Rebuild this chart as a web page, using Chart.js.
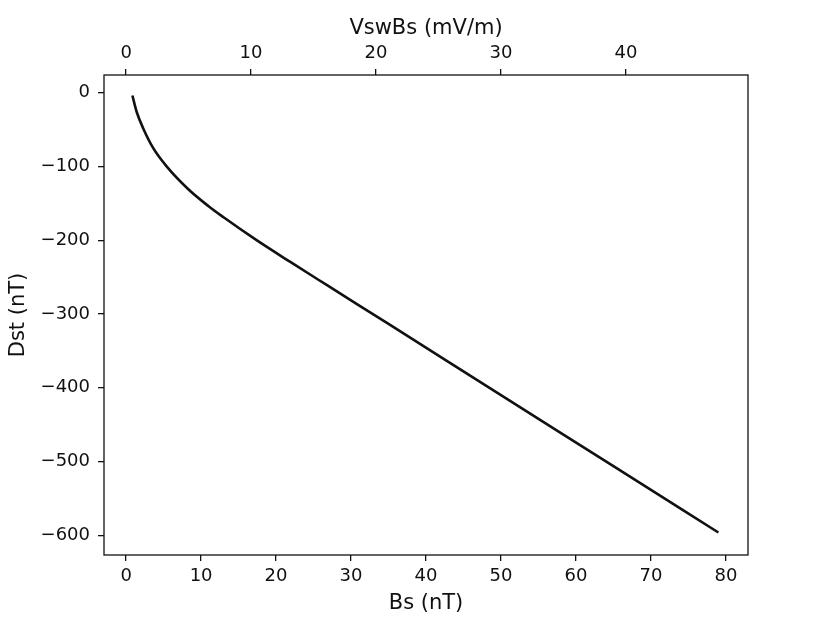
<!DOCTYPE html>
<html>
<head>
<meta charset="utf-8">
<script src="https://cdn.jsdelivr.net/npm/chart.js@4"></script>
<style>
  html, body { margin: 0; padding: 0; background: #fff; }
  canvas { display: block; }
</style>
</head>
<body>
<canvas id="dstChart" width="830" height="623" style="width:830px;height:623px"></canvas>
<script>
// Dst response vs southward IMF
const bsValues  = [0.84, 1.4, 2.3, 3.6, 5.4, 8.3, 11, 13, 17.4, 21.9, 26.8, 35, 50, 65, 79];
const dstValues = [-4, -26, -49, -75, -100, -131, -154, -169, -200, -229.5, -261, -313.5, -410, -506, -596];

// axis ticks
const bsTicks = [0, 10, 20, 30, 40, 50, 60, 70, 80];
const eTicks = [0, 10, 20, 30, 40];
const dstTicks = [0, -100, -200, -300, -400, -500, -600];

// VswBs = 0.6 * Bs (Vsw = 600 km/s)
const vswFactor = 0.6;
const bsMin = -2.95, bsMax = 82.95;
const dstMin = -626.5, dstMax = 23.8;

const fontFamily = "'DejaVu Sans', sans-serif";
const ink = '#111';

function minusSign(v) {
    return String(v).replace('-', '\u2212');
}

function setTicks(list) {
    return function (scale) {
        scale.ticks = list.map(v => ({ value: v }));
    };
}

// plot frame
const frame = {
    id: 'frame',
    afterDraw(chart) {
        const a = chart.chartArea;
        const c = chart.ctx;
        c.save();
        c.strokeStyle = ink;
        c.lineWidth = 1.3;
        c.strokeRect(a.left, a.top, a.right - a.left, a.bottom - a.top);
        c.restore();
    }
};

const gridOpts = {
    display: true,
    drawOnChartArea: false,
    drawTicks: true,
    tickLength: 6,
    color: ink,
    lineWidth: 1.3
};

const ctx = document.getElementById('dstChart').getContext('2d');
const dstChart = new Chart(ctx, {
    type: 'line',
    data: {
        datasets: [{
            label: 'Dst',
            data: bsValues.map((b, i) => ({ x: b, y: dstValues[i] })),
            borderColor: ink,
            borderWidth: 2.6,
            pointRadius: 0,
            fill: false,
            cubicInterpolationMode: 'monotone',
            xAxisID: 'x',
            yAxisID: 'y'
        }]
    },
    options: {
        responsive: false,
        animation: false,
        layout: { padding: { left: 0, right: 82, top: 0, bottom: 0 } },
        plugins: {
            legend: { display: false },
            tooltip: { enabled: false }
        },
        scales: {
            x: {
                type: 'linear',
                position: 'bottom',
                min: bsMin,
                max: bsMax,
                afterBuildTicks: setTicks(bsTicks),
                afterFit: s => { s.height = 68; },
                grid: gridOpts,
                border: { display: false },
                ticks: {
                    color: ink,
                    padding: 5,
                    maxRotation: 0,
                    font: { family: fontFamily, size: 18 },
                    callback: v => minusSign(v)
                },
                title: {
                    display: true,
                    text: 'Bs (nT)',
                    color: ink,
                    font: { family: fontFamily, size: 21 },
                    padding: { top: 0, bottom: 7 }
                }
            },
            x2: {
                type: 'linear',
                position: 'top',
                min: bsMin * vswFactor,
                max: bsMax * vswFactor,
                afterBuildTicks: setTicks(eTicks),
                afterFit: s => { s.height = 75; },
                grid: gridOpts,
                border: { display: false },
                ticks: {
                    color: ink,
                    padding: 5,
                    maxRotation: 0,
                    font: { family: fontFamily, size: 18 },
                    callback: v => minusSign(v)
                },
                title: {
                    display: true,
                    text: 'VswBs (mV/m)',
                    color: ink,
                    font: { family: fontFamily, size: 21 },
                    padding: { top: 16, bottom: 0 }
                }
            },
            y: {
                type: 'linear',
                position: 'left',
                min: dstMin,
                max: dstMax,
                afterBuildTicks: setTicks(dstTicks),
                afterFit: s => { s.width = 104; },
                grid: gridOpts,
                border: { display: false },
                ticks: {
                    color: ink,
                    padding: 8,
                    font: { family: fontFamily, size: 18 },
                    callback: v => minusSign(v)
                },
                title: {
                    display: true,
                    text: 'Dst (nT)',
                    color: ink,
                    font: { family: fontFamily, size: 21 },
                    padding: { top: 6, bottom: 0 }
                }
            }
        }
    },
    plugins: [frame]
});
</script>
</body>
</html>
